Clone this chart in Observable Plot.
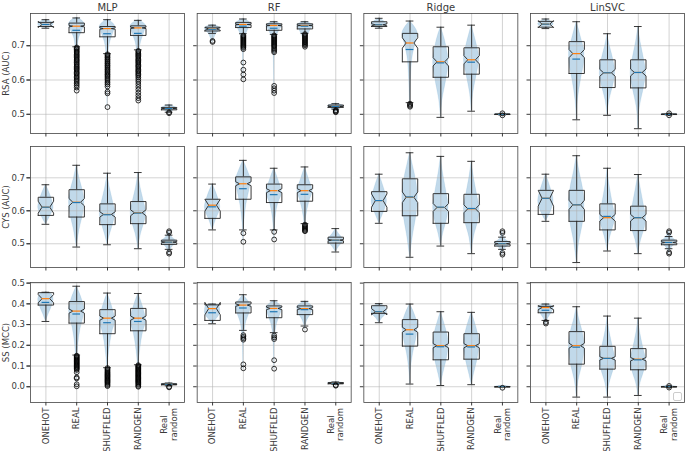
<!DOCTYPE html>
<html><head><meta charset="utf-8">
<script src="https://cdn.jsdelivr.net/npm/d3@7"></script>
<script src="https://cdn.jsdelivr.net/npm/@observablehq/plot@0.6"></script>
<style>
body{margin:0;background:#fff;}
#chart{position:relative;width:685px;height:451px;overflow:hidden;}
#chart svg{display:block;}
#legendbox{position:absolute;left:673px;top:392px;width:7px;height:7px;border:1px solid #ccc;border-radius:2px;background:#fff;}
</style></head><body><div id="chart"></div>
<script>
const models = ["MLP", "RF", "Ridge", "LinSVC"];
const categories = ["ONEHOT", "REAL", "SHUFFLED", "RANDGEN", "Real\nrandom"];
const positions = [1, 2, 3, 4, 5];
const rowLabels = ["RSA (AUC)", "CYS (AUC)", "SS (MCC)"];
const yTicks = [[0.5, 0.6, 0.7], [0.5, 0.6, 0.7], [0.0, 0.1, 0.2, 0.3, 0.4, 0.5]];
const yDomains = [[0.444, 0.794], [0.428, 0.795], [-0.076, 0.503]];

// box stats per model x category: [whiskerLow, q1, median, q3, whiskerHigh, mean, notchHalfWidth]
const rsaBox = [
  [[0.751,0.756,0.762,0.768,0.776,0.762,0.009],[0.697,0.738,0.757,0.766,0.781,0.745,0.002],[0.677,0.726,0.750,0.756,0.776,0.735,0.002],[0.688,0.730,0.752,0.758,0.774,0.736,0.002],[0.506,0.513,0.517,0.520,0.527,0.517,0.001]],
  [[0.736,0.743,0.749,0.754,0.760,0.748,0.004],[0.735,0.753,0.762,0.768,0.778,0.757,0.001],[0.733,0.745,0.759,0.764,0.770,0.751,0.001],[0.736,0.749,0.759,0.764,0.770,0.757,0.001],[0.515,0.520,0.523,0.527,0.531,0.523,0.001]],
  [[0.751,0.756,0.761,0.770,0.780,0.761,0.003],[0.534,0.653,0.708,0.736,0.772,0.689,0.015],[0.491,0.608,0.653,0.697,0.754,0.650,0.012],[0.509,0.617,0.659,0.694,0.760,0.652,0.012],[0.4985,0.4993,0.500,0.5007,0.5015,0.500,0.0003]],
  [[0.750,0.754,0.763,0.771,0.778,0.763,0.010],[0.484,0.619,0.677,0.712,0.770,0.661,0.012],[0.497,0.578,0.621,0.659,0.735,0.621,0.010],[0.458,0.577,0.622,0.659,0.756,0.622,0.010],[0.4985,0.4993,0.500,0.5007,0.5015,0.500,0.0003]]
];
const cysBox = [
  [[0.559,0.586,0.611,0.641,0.679,0.611,0.018],[0.490,0.581,0.626,0.664,0.738,0.625,0.011],[0.497,0.558,0.589,0.621,0.714,0.588,0.008],[0.485,0.561,0.594,0.628,0.716,0.593,0.009],[0.483,0.498,0.505,0.511,0.526,0.505,0.002]],
  [[0.542,0.577,0.617,0.635,0.681,0.612,0.018],[0.542,0.635,0.682,0.703,0.753,0.667,0.006],[0.542,0.625,0.661,0.681,0.729,0.649,0.006],[0.561,0.629,0.661,0.679,0.733,0.650,0.006],[0.475,0.502,0.511,0.520,0.546,0.511,0.002]],
  [[0.562,0.598,0.631,0.658,0.711,0.631,0.020],[0.459,0.585,0.641,0.697,0.776,0.642,0.016],[0.493,0.562,0.610,0.652,0.765,0.611,0.012],[0.470,0.564,0.606,0.650,0.750,0.607,0.012],[0.483,0.493,0.500,0.507,0.520,0.500,0.002]],
  [[0.568,0.589,0.638,0.662,0.711,0.638,0.024],[0.443,0.568,0.618,0.662,0.767,0.618,0.014],[0.478,0.542,0.579,0.621,0.729,0.583,0.010],[0.470,0.540,0.579,0.614,0.710,0.579,0.010],[0.485,0.497,0.504,0.511,0.522,0.504,0.002]]
];
const ssBox = [
  [[0.315,0.394,0.425,0.454,0.456,0.407,0.020],[0.153,0.307,0.365,0.411,0.485,0.351,0.010],[0.092,0.256,0.331,0.372,0.452,0.309,0.010],[0.106,0.270,0.331,0.378,0.450,0.315,0.010],[0.004,0.009,0.012,0.014,0.018,0.012,0.001]],
  [[0.304,0.320,0.377,0.395,0.399,0.357,0.030],[0.272,0.356,0.394,0.409,0.444,0.380,0.006],[0.261,0.333,0.378,0.390,0.415,0.362,0.006],[0.293,0.348,0.377,0.390,0.412,0.372,0.005],[0.012,0.014,0.017,0.020,0.023,0.017,0.001]],
  [[0.309,0.354,0.362,0.391,0.401,0.362,0.015],[0.013,0.196,0.275,0.324,0.399,0.254,0.012],[0.006,0.130,0.198,0.264,0.362,0.193,0.010],[0.010,0.133,0.198,0.256,0.359,0.192,0.010],[-0.002,-0.001,0.000,0.001,0.002,0.000,0.0003]],
  [[0.320,0.357,0.382,0.388,0.399,0.369,0.010],[-0.050,0.109,0.198,0.266,0.386,0.191,0.012],[-0.050,0.085,0.137,0.195,0.341,0.137,0.008],[-0.042,0.082,0.133,0.184,0.331,0.130,0.008],[-0.002,-0.001,0.000,0.001,0.002,0.000,0.0003]]
];

// violin profiles per model x category: [value, relative width]
const rsaViolin = [
  [[[0.751,0],[0.755,0.7],[0.762,1],[0.770,0.7],[0.776,0]],
   [[0.569,0],[0.62,0.04],[0.68,0.1],[0.72,0.3],[0.745,0.75],[0.762,1],[0.775,0.6],[0.782,0]],
   [[0.520,0],[0.60,0.04],[0.67,0.12],[0.71,0.35],[0.74,0.8],[0.755,1],[0.768,0.6],[0.777,0]],
   [[0.540,0],[0.61,0.04],[0.67,0.12],[0.71,0.35],[0.74,0.8],[0.757,1],[0.768,0.6],[0.775,0]],
   [[0.502,0],[0.510,0.5],[0.517,1],[0.523,0.6],[0.528,0]]],
  [[[0.708,0],[0.72,0.2],[0.735,0.5],[0.748,1],[0.755,0.8],[0.761,0]],
   [[0.602,0],[0.68,0.05],[0.72,0.2],[0.75,0.7],[0.763,1],[0.772,0.6],[0.779,0]],
   [[0.558,0],[0.66,0.04],[0.72,0.2],[0.745,0.7],[0.758,1],[0.766,0.6],[0.771,0]],
   [[0.696,0],[0.72,0.2],[0.745,0.7],[0.758,1],[0.766,0.6],[0.771,0]],
   [[0.506,0],[0.515,0.5],[0.523,1],[0.529,0.5],[0.532,0]]],
  [[[0.751,0],[0.756,0.7],[0.762,1],[0.770,0.7],[0.780,0]],
   [[0.522,0],[0.56,0.05],[0.62,0.15],[0.67,0.35],[0.71,0.75],[0.735,1],[0.755,0.6],[0.772,0]],
   [[0.491,0],[0.54,0.2],[0.60,0.7],[0.65,1],[0.70,0.7],[0.735,0.3],[0.754,0]],
   [[0.509,0],[0.56,0.2],[0.62,0.7],[0.66,1],[0.70,0.7],[0.735,0.3],[0.760,0]],
   [[0.497,0],[0.500,1],[0.503,0]]],
  [[[0.750,0],[0.756,0.7],[0.763,1],[0.770,0.7],[0.778,0]],
   [[0.484,0],[0.54,0.15],[0.60,0.55],[0.65,0.95],[0.68,1],[0.72,0.6],[0.75,0.25],[0.770,0]],
   [[0.497,0],[0.54,0.25],[0.59,0.8],[0.62,1],[0.66,0.75],[0.70,0.3],[0.735,0]],
   [[0.458,0],[0.52,0.2],[0.58,0.75],[0.62,1],[0.66,0.75],[0.71,0.3],[0.756,0]],
   [[0.497,0],[0.500,1],[0.503,0]]]
];
const cysViolin = [
  [[[0.559,0],[0.585,0.6],[0.61,1],[0.64,0.7],[0.679,0]],
   [[0.490,0],[0.54,0.35],[0.60,0.9],[0.625,1],[0.66,0.8],[0.70,0.35],[0.738,0]],
   [[0.497,0],[0.53,0.35],[0.57,0.85],[0.59,1],[0.63,0.7],[0.67,0.3],[0.714,0]],
   [[0.485,0],[0.53,0.35],[0.57,0.85],[0.595,1],[0.63,0.7],[0.67,0.3],[0.716,0]],
   [[0.470,0],[0.49,0.4],[0.505,1],[0.52,0.4],[0.538,0]]],
  [[[0.542,0],[0.57,0.4],[0.61,1],[0.64,0.7],[0.681,0]],
   [[0.506,0],[0.56,0.1],[0.62,0.4],[0.67,0.85],[0.69,1],[0.72,0.6],[0.753,0]],
   [[0.512,0],[0.56,0.1],[0.62,0.5],[0.655,1],[0.69,0.6],[0.729,0]],
   [[0.538,0],[0.58,0.15],[0.63,0.6],[0.66,1],[0.69,0.6],[0.733,0]],
   [[0.475,0],[0.49,0.4],[0.511,1],[0.53,0.4],[0.546,0]]],
  [[[0.562,0],[0.59,0.5],[0.63,1],[0.67,0.6],[0.711,0]],
   [[0.459,0],[0.52,0.35],[0.59,0.85],[0.64,1],[0.69,0.8],[0.74,0.35],[0.776,0]],
   [[0.493,0],[0.53,0.3],[0.58,0.85],[0.61,1],[0.66,0.7],[0.72,0.25],[0.765,0]],
   [[0.470,0],[0.52,0.3],[0.57,0.85],[0.605,1],[0.65,0.7],[0.70,0.3],[0.750,0]],
   [[0.467,0],[0.485,0.3],[0.500,1],[0.515,0.3],[0.538,0]]],
  [[[0.568,0],[0.59,0.5],[0.63,1],[0.67,0.6],[0.711,0]],
   [[0.443,0],[0.50,0.3],[0.57,0.85],[0.62,1],[0.67,0.8],[0.72,0.35],[0.767,0]],
   [[0.478,0],[0.52,0.35],[0.56,0.85],[0.58,1],[0.62,0.7],[0.68,0.25],[0.729,0]],
   [[0.470,0],[0.51,0.35],[0.55,0.85],[0.58,1],[0.62,0.7],[0.67,0.3],[0.710,0]],
   [[0.470,0],[0.49,0.4],[0.504,1],[0.52,0.4],[0.538,0]]]
];
const ssViolin = [
  [[[0.315,0],[0.35,0.35],[0.39,0.8],[0.42,1],[0.445,0.8],[0.456,0]],
   [[0.000,0],[0.10,0.05],[0.20,0.2],[0.28,0.5],[0.34,0.9],[0.37,1],[0.42,0.7],[0.485,0]],
   [[0.000,0],[0.10,0.06],[0.18,0.25],[0.26,0.6],[0.32,1],[0.36,0.8],[0.41,0.4],[0.452,0]],
   [[0.000,0],[0.10,0.06],[0.18,0.25],[0.26,0.6],[0.32,1],[0.36,0.8],[0.41,0.4],[0.450,0]],
   [[-0.003,0],[0.008,0.6],[0.012,1],[0.018,0]]],
  [[[0.304,0],[0.33,0.6],[0.36,1],[0.39,0.9],[0.400,0]],
   [[0.085,0],[0.20,0.05],[0.30,0.3],[0.37,0.9],[0.39,1],[0.42,0.5],[0.444,0]],
   [[0.085,0],[0.20,0.05],[0.30,0.35],[0.36,0.9],[0.38,1],[0.40,0.6],[0.415,0]],
   [[0.275,0],[0.32,0.3],[0.36,0.9],[0.38,1],[0.40,0.6],[0.412,0]],
   [[0.005,0],[0.013,0.6],[0.017,1],[0.023,0]]],
  [[[0.309,0],[0.33,0.4],[0.36,1],[0.385,0.8],[0.401,0]],
   [[0.013,0],[0.08,0.1],[0.16,0.4],[0.24,0.85],[0.29,1],[0.34,0.7],[0.399,0]],
   [[0.006,0],[0.06,0.3],[0.14,0.8],[0.20,1],[0.26,0.8],[0.32,0.35],[0.362,0]],
   [[0.010,0],[0.06,0.3],[0.14,0.8],[0.20,1],[0.26,0.8],[0.32,0.35],[0.359,0]],
   [[-0.005,0],[0.000,1],[0.005,0]]],
  [[[0.300,0],[0.33,0.3],[0.36,0.8],[0.38,1],[0.395,0.6],[0.400,0]],
   [[-0.050,0],[0.03,0.25],[0.11,0.75],[0.19,1],[0.26,0.8],[0.33,0.3],[0.386,0]],
   [[-0.050,0],[0.02,0.3],[0.09,0.85],[0.13,1],[0.19,0.7],[0.27,0.25],[0.341,0]],
   [[-0.042,0],[0.02,0.3],[0.08,0.8],[0.13,1],[0.18,0.7],[0.26,0.25],[0.331,0]],
   [[-0.005,0],[0.000,1],[0.005,0]]]
];

// outliers (fliers) per model x category
const rsaOutliers = [
  [[],
   [0.695,0.692,0.689,0.685,0.682,0.679,0.675,0.672,0.668,0.665,0.661,0.658,0.655,0.651,0.647,0.644,0.640,0.637,0.633,0.630,0.626,0.622,0.619,0.615,0.611,0.607,0.603,0.599,0.594,0.589,0.584,0.578,0.569],
   [0.675,0.672,0.668,0.665,0.661,0.658,0.654,0.650,0.647,0.643,0.640,0.636,0.632,0.629,0.625,0.621,0.617,0.614,0.610,0.606,0.602,0.597,0.592,0.587,0.581,0.566,0.561,0.521],
   [0.685,0.682,0.678,0.675,0.671,0.668,0.664,0.660,0.657,0.653,0.650,0.646,0.642,0.639,0.635,0.631,0.627,0.624,0.620,0.616,0.612,0.607,0.601,0.595,0.588,0.580,0.572,0.563,0.555,0.547,0.540],
   [0.506,0.503]],
  [[0.714,0.711],
   [0.730,0.727,0.724,0.721,0.718,0.715,0.712,0.709,0.706,0.703,0.700,0.697,0.694,0.690,0.651,0.630,0.616,0.602],
   [0.730,0.727,0.724,0.721,0.718,0.715,0.712,0.709,0.706,0.703,0.700,0.697,0.693,0.689,0.685,0.681,0.583,0.576,0.569,0.562],
   [0.734,0.731,0.728,0.725,0.722,0.719,0.716,0.713,0.710,0.707,0.704,0.701,0.697],
   [0.512,0.510,0.508,0.506]],
  [[], [0.531,0.528,0.525,0.522], [], [], [0.503,0.497]],
  [[], [], [], [], [0.503,0.497]]
];
const cysOutliers = [
  [[], [], [], [], [0.538,0.534,0.474,0.470]],
  [[], [0.532,0.506], [0.536,0.513], [0.558,0.555,0.552,0.549,0.546,0.543,0.540,0.538], []],
  [[], [], [], [], [0.538,0.533,0.472,0.467]],
  [[], [], [], [], [0.538,0.534,0.474,0.470]]
];
const ssOutliers = [
  [[],
   [0.150,0.146,0.142,0.138,0.134,0.130,0.126,0.122,0.118,0.114,0.110,0.106,0.102,0.098,0.094,0.090,0.086,0.081,0.070,0.045,0.040,0.012,0.002],
   [0.090,0.085,0.080,0.075,0.070,0.066,0.062,0.058,0.054,0.050,0.046,0.042,0.038,0.034,0.030,0.026,0.022,0.018,0.013,0.008,0.003],
   [0.104,0.100,0.096,0.092,0.088,0.084,0.080,0.076,0.072,0.068,0.064,0.060,0.056,0.052,0.048,0.044,0.040,0.036,0.032,0.028,0.024,0.020,0.015,0.010,0.004,0.000],
   [0.000,-0.003]],
  [[], [0.249,0.241,0.234,0.227,0.108,0.089], [0.247,0.238,0.230,0.128,0.087], [0.276], [0.008,0.005]],
  [[], [], [], [], [-0.005]],
  [[0.312,0.305], [], [], [], [0.004,-0.004]]
];

const allBox = [rsaBox, cysBox, ssBox];
const allViolin = [rsaViolin, cysViolin, ssViolin];
const allOutliers = [rsaOutliers, cysOutliers, ssOutliers];

const layout = [
  {height: 140, marginTop: 13, marginBottom: 7},
  {height: 133, marginTop: 6, marginBottom: 6},
  {height: 178, marginTop: 9, marginBottom: 49}
];

const BOX_W = 0.25, NOTCH_W = 0.125, CAP_W = 0.125, VIO_W = 0.25;
const ink = "#222";
const textInk = "#3a3a3a";

function rowPlot(r) {
  const boxes = [], vio = [], outs = [], outline = [];
  models.forEach((m, mi) => categories.forEach((c, ci) => {
    const [lo, q1, med, q3, hi, mean, notch] = allBox[r][mi][ci];
    const pos = positions[ci];
    boxes.push({model: m, pos, lo, q1, med, q3, hi, mean});
    allViolin[r][mi][ci].forEach(([v, w]) => vio.push({model: m, key: m + ci, pos, v, w}));
    allOutliers[r][mi][ci].forEach(v => outs.push({model: m, pos, v}));
    const L = pos - BOX_W, R = pos + BOX_W, nl = pos - NOTCH_W, nr = pos + NOTCH_W;
    const a = med - notch, b = med + notch;
    [[L,q1],[R,q1],[R,a],[nr,med],[R,b],[R,q3],[L,q3],[L,b],[nl,med],[L,a],[L,q1]]
      .forEach(([x, y]) => outline.push({model: m, key: m + ci, x, y}));
  }));
  const L = layout[r];
  const last = categories.length;
  const marks = [
    Plot.areaX(vio, {fx: "model", y: "v", x1: d => d.pos - VIO_W * d.w, x2: d => d.pos + VIO_W * d.w, z: "key",
      fill: "#1f77b4", fillOpacity: 0.28, stroke: "#1f77b4", strokeOpacity: 0.2, strokeWidth: 0.5, curve: "monotone-y"}),
    Plot.gridX({ticks: positions, stroke: "#b0b0b0", strokeOpacity: 0.7, strokeWidth: 0.8}),
    Plot.gridY({ticks: yTicks[r], stroke: "#b0b0b0", strokeOpacity: 0.7, strokeWidth: 0.8}),
    Plot.ruleX(boxes, {fx: "model", x: "pos", y1: "q3", y2: "hi", stroke: ink, strokeWidth: 0.9}),
    Plot.ruleX(boxes, {fx: "model", x: "pos", y1: "lo", y2: "q1", stroke: ink, strokeWidth: 0.9}),
    Plot.ruleY(boxes, {fx: "model", y: "hi", x1: d => d.pos - CAP_W, x2: d => d.pos + CAP_W, stroke: ink, strokeWidth: 0.9}),
    Plot.ruleY(boxes, {fx: "model", y: "lo", x1: d => d.pos - CAP_W, x2: d => d.pos + CAP_W, stroke: ink, strokeWidth: 0.9}),
    Plot.line(outline, {fx: "model", x: "x", y: "y", z: "key", stroke: ink, strokeWidth: 0.9, curve: "linear"}),
    Plot.ruleY(boxes, {fx: "model", y: "med", x1: d => d.pos - NOTCH_W, x2: d => d.pos + NOTCH_W, stroke: "#ff7f0e", strokeWidth: 1.2}),
    Plot.ruleY(boxes, {fx: "model", y: "mean", x1: d => d.pos - NOTCH_W, x2: d => d.pos + NOTCH_W, stroke: "#1f77b4", strokeWidth: 1.2}),
    Plot.dot(outs, {fx: "model", x: "pos", y: "v", r: 2.4, stroke: "#000", strokeWidth: 0.8, fill: "none"}),
    Plot.frame({stroke: "#444", strokeWidth: 0.8}),
    Plot.axisY({ticks: yTicks[r], tickSize: 3.5, tickPadding: 2, tickFormat: d3.format(".1f"), fill: textInk, fontWeight: "normal",
      label: rowLabels[r], labelAnchor: "center", labelArrow: "none", labelOffset: 28}),
    Plot.axisY({ticks: yTicks[r], tickSize: 3.5, tickFormat: () => "", facetAnchor: null, label: null}),
    Plot.axisX({ticks: positions, tickSize: 3.5, tickPadding: 1.5, label: null, fill: textInk,
      tickFormat: r === 2 ? (i => i === last ? "" : categories[i - 1]) : (() => ""), tickRotate: r === 2 ? -90 : 0})
  ];
  if (r === 2) {
    // two-line tick label, lines centred on each other as in the original
    marks.push(Plot.text(models.map(m => ({model: m, pos: last, label: categories[last - 1]})), {
      fx: "model", x: "pos", text: "label", frameAnchor: "bottom", rotate: -90, textAnchor: "middle",
      lineAnchor: "middle", dy: 22, fill: textInk, lineHeight: 1.1
    }));
  }
  if (r === 0) marks.push(Plot.axisFx({anchor: "top", tickSize: 0, tickPadding: 3, label: null, fontSize: 10, fill: textInk, fontWeight: "normal"}));
  return Plot.plot({
    width: 685, height: L.height, marginLeft: 30, marginRight: 1, marginTop: L.marginTop, marginBottom: L.marginBottom,
    style: {fontFamily: "DejaVu Sans, sans-serif", fontSize: "8.5px", color: textInk, background: "#fff"},
    fx: {domain: models, paddingInner: 0.076, paddingOuter: 0, round: false, label: null, axis: r === 0 ? undefined : null},
    x: {domain: [0.5, 5.5]},
    y: {domain: yDomains[r]},
    marks
  });
}

const chart = document.getElementById("chart");
[0, 1, 2].forEach(r => chart.appendChild(rowPlot(r)));
const lg = document.createElement("div");
lg.id = "legendbox";
chart.appendChild(lg);
</script></body></html>
